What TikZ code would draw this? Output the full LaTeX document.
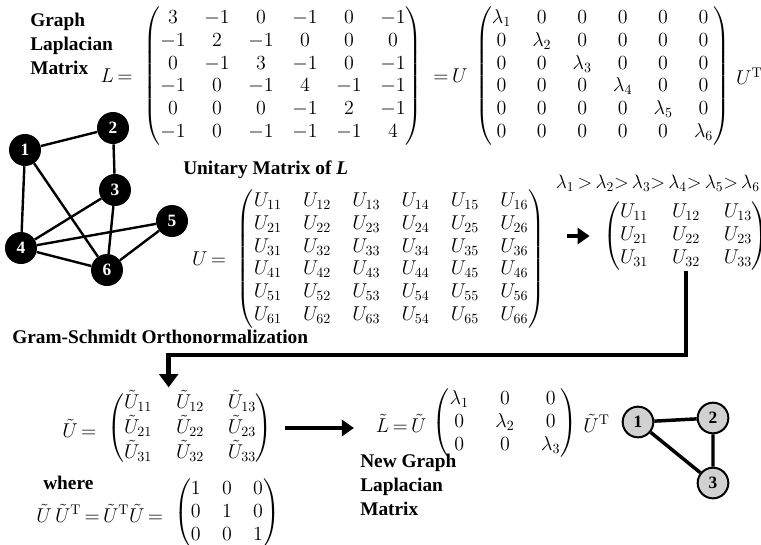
\documentclass[tikz,border=0pt]{standalone}
\usepackage{fix-cm}
\usepackage{amsmath}
\usepackage{fontspec}
\newfontfamily\labelfont{Liberation Serif}
\usepackage{tikz}
\usetikzlibrary{arrows.meta,positioning,calc}
\newcommand{\eqs}{\,{=}\,}

\begin{document}
\begin{tikzpicture}[
  x=0.75pt,y=-0.75pt,
  every node/.style={font=\fontsize{15}{17}\selectfont},
  caption/.style={align=left,inner sep=0pt,
    font=\fontsize{14.5}{18}\selectfont\labelfont\bfseries},
  mat/.style={inner sep=0pt,execute at begin node={\setlength{\arraycolsep}{#1}}},
  mat/.default=7pt,
  vertex/.style={circle,fill=black,text=white,inner sep=0pt,minimum size=24pt,
    font=\fontsize{13}{13}\selectfont\labelfont\bfseries},
  smallvertex/.style={circle,draw,fill=black!18,line width=1.5pt,inner sep=0pt,
    minimum size=23pt,font=\fontsize{13}{13}\selectfont\labelfont\bfseries},
  link/.style={line width=1.8pt},
  arrow/.style={-{Triangle[length=9pt,width=12pt]},line width=3pt},
  bigarrow/.style={-{Triangle[length=10pt,width=14pt]},line width=3.5pt},
]
  \useasboundingbox (0,0) rectangle (761,544);

  % original graph Laplacian
  \node[caption,anchor=west] (lapText) at (30,44) {Graph\\Laplacian\\Matrix};
  \node[mat] (lap) at (283,76) {$\begin{pmatrix}
     3&-1& 0&-1& 0&-1\\
    -1& 2&-1& 0& 0& 0\\
     0&-1& 3&-1& 0&-1\\
    -1& 0&-1& 4&-1&-1\\
     0& 0& 0&-1& 2&-1\\
    -1& 0&-1&-1&-1& 4
  \end{pmatrix}$};
  \node[left=2pt of lap] (lapEq) {$L\eqs$};
  \node[right=2pt of lap] (eqU) {$\eqs U$};
  \node[mat=8pt,right=2pt of eqU] (diag) {$\begin{pmatrix}
    \lambda_1&0&0&0&0&0\\
    0&\lambda_2&0&0&0&0\\
    0&0&\lambda_3&0&0&0\\
    0&0&0&\lambda_4&0&0\\
    0&0&0&0&\lambda_5&0\\
    0&0&0&0&0&\lambda_6
  \end{pmatrix}$};
  \node[right=1pt of diag] (diagT) {$U^{\mathrm{T}}$};

  % graph with 6 vertices
  \node[vertex] (v1) at (25,150) {1};
  \node[vertex] (v2) at (113,128) {2};
  \node[vertex] (v3) at (115,190) {3};
  \node[vertex] (v4) at (21,248) {4};
  \node[vertex] (v5) at (172,221) {5};
  \node[vertex] (v6) at (107,270) {6};
  \foreach \a/\b in {1/2,1/4,1/6,2/3,3/4,3/6,4/5,4/6,5/6}
    \draw[link] (v\a) -- (v\b);

  % unitary matrix
  \node[caption,anchor=west] (uniText) at (183,170) {Unitary Matrix of \textit{L}};
  \node[mat=8pt] (uni) at (391,259) {$\begin{pmatrix}
    U_{11}&U_{12}&U_{13}&U_{14}&U_{15}&U_{16}\\
    U_{21}&U_{22}&U_{23}&U_{24}&U_{25}&U_{26}\\
    U_{31}&U_{32}&U_{33}&U_{34}&U_{35}&U_{36}\\
    U_{41}&U_{42}&U_{43}&U_{44}&U_{45}&U_{46}\\
    U_{51}&U_{52}&U_{53}&U_{54}&U_{55}&U_{56}\\
    U_{61}&U_{62}&U_{63}&U_{54}&U_{65}&U_{66}
  \end{pmatrix}$};
  \node[left=2pt of uni] (uniEq) {$U\eqs$};

  % first three eigenvectors
  \node[mat=9pt] (sub) at (686,236) {$\begin{pmatrix}
    U_{11}&U_{12}&U_{13}\\
    U_{21}&U_{22}&U_{23}\\
    U_{31}&U_{32}&U_{33}
  \end{pmatrix}$};
  \node[anchor=east,inner sep=0pt,font=\fontsize{14.5}{16}\selectfont] (order) at (760,183)
    {$\lambda_1\,{>}\,\lambda_2{>}\,\lambda_3{>}\,\lambda_4{>}\,\lambda_5{>}\,\lambda_6$};
  \draw[arrow,shorten <=16pt,shorten >=10pt] (sub.west -| uni.east) -- (sub.west);

  % Gram-Schmidt step
  \node[caption,anchor=west] (gsText) at (12,337) {Gram-Schmidt Orthonormalization};
  \node[mat=9pt] (ut) at (190,428) {$\begin{pmatrix}
    \tilde{U}_{11}&\tilde{U}_{12}&\tilde{U}_{13}\\
    \tilde{U}_{21}&\tilde{U}_{22}&\tilde{U}_{23}\\
    \tilde{U}_{31}&\tilde{U}_{32}&\tilde{U}_{33}
  \end{pmatrix}$};
  \node[left=2pt of ut] (utEq) {$\tilde{U}\eqs$};
  \draw[bigarrow] (sub.south) -- ++(0,84) -| ([xshift=-16pt,yshift=2pt]ut.north);

  \node[caption,anchor=west] (whereText) at (43,483) {where};
  \node[mat=8pt] (eye) at (227,513) {$\begin{pmatrix}
    1&0&0\\ 0&1&0\\ 0&0&1
  \end{pmatrix}$};
  \node[left=2pt of eye] (eyeEq)
    {$\tilde{U}\,\tilde{U}^{\mathrm{T}}\eqs\tilde{U}^{\mathrm{T}}\tilde{U}\eqs$};

  % new graph Laplacian
  \node[mat=10pt] (newDiag) at (505,423) {$\begin{pmatrix}
    \lambda_1&0&0\\ 0&\lambda_2&0\\ 0&0&\lambda_3
  \end{pmatrix}$};
  \node[left=1pt of newDiag] (newEq) {$\tilde{L}\eqs\tilde{U}$};
  \node[right=1pt of newDiag] (newT) {$\tilde{U}^{\mathrm{T}}$};
  \node[caption,anchor=west] (newText) at (360,485) {New Graph\\Laplacian\\Matrix};
  \draw[arrow,shorten <=9pt,shorten >=13pt] (ut.east) -- (ut.east -| newEq.west);

  % reduced graph
  \node[smallvertex] (w1) at (638,422) {1};
  \node[smallvertex] (w2) at (713,418) {2};
  \node[smallvertex] (w3) at (713,483) {3};
  \draw[line width=2.6pt] (w1) -- (w2) (w2) -- (w3) (w1) -- (w3);
\end{tikzpicture}
\end{document}
